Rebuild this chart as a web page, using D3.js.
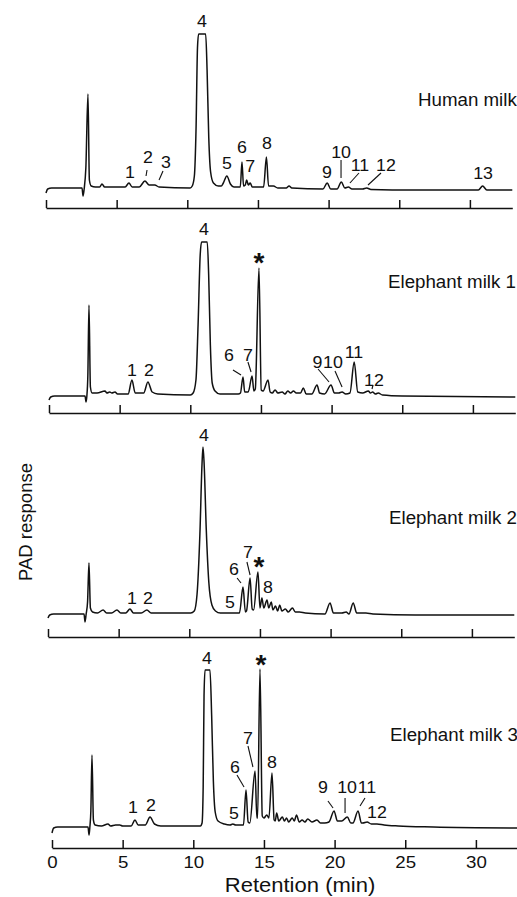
<!DOCTYPE html>
<html>
<head>
<meta charset="utf-8">
<script src="https://cdn.jsdelivr.net/npm/d3@7"></script>
<style>
  body { margin: 0; background: #fff; }
  text { font-family: "Liberation Sans", Arial, Helvetica, sans-serif; fill: #111; }
</style>
</head>
<body>
<script>
const w = 517;
const h = 897;

// retention time (min), response above baseline (arbitrary units)
const humanTrace = [
  [0,-5],[0.12,-1],[0.4,0],[2.55,0],[2.62,-8],[2.7,-1],[2.82,20],[2.97,94],[3.07,8],[3.2,2],[3.5,1],
  [3.8,1],[3.96,4],[4.15,1],[4.5,1],[5.6,1],[5.87,5],[6.1,1],[6.6,1],[7.0,7],[7.3,3],[7.7,3],[8.0,1],[10.2,0],
  [10.35,2],[10.5,12],[10.62,60],[10.72,140],[10.8,154],[11.3,154],[11.4,118],[11.52,50],[11.65,16],[11.85,5],[12.2,2],[12.4,2],
  [12.55,5],[12.8,12],[13.05,4],[13.3,1],[13.75,1],[13.87,26],[13.98,2],[14.1,3],[14.2,8],[14.32,3],[14.45,5],[14.6,1],[15.4,1],
  [15.6,31],[15.75,2],[16.1,2],[16.4,0],[17.0,0],[17.2,2],[17.4,0],[19.6,-1],
  [19.9,5],[20.15,-1],[20.6,-1],[20.9,6],[21.15,0],[21.4,1],[21.65,-1],[22.4,-1],[22.7,0],[23.0,-1.5],
  [26,-2],[30.6,-2],[30.9,2],[31.2,-2],[33,-2]
];
const ele1Trace = [
  [0,-5],[0.12,-2],[0.4,-1],[2.55,-1],[2.62,-7],[2.68,-1],[2.75,20],[2.83,90],[2.93,8],[3.05,2],[3.4,2],
  [3.96,4],[4.1,2],[4.3,3],[4.45,2],[4.67,3],[4.85,1],[5.6,1],[5.87,15],[6.1,2],[6.7,2],[7.0,13],[7.3,3],[7.7,1],[10.0,0],
  [10.2,2],[10.4,15],[10.55,70],[10.7,140],[10.8,153],[11.2,153],[11.3,120],[11.42,50],[11.55,12],[11.75,4],[12.1,1],
  [13.4,1],[13.55,2],[13.73,18],[13.85,3],[14.1,3],[14.37,19],[14.5,4],[14.6,6],[14.86,127],[15.02,5],[15.15,4],[15.5,15],[15.65,3],[15.8,2],
  [16.0,5],[16.2,2],[16.5,3],[16.7,1],[16.9,4],[17.1,2],[17.3,4],[17.5,2],[17.8,2],[18.0,7],[18.2,1],[18.6,1],[18.97,10],[19.15,2],
  [19.5,1],[19.96,10],[20.2,2],[20.5,2],[20.74,3],[21.0,1],[21.3,2],[21.6,33],[21.85,3],[22.2,2],[22.6,4],[22.75,2],[22.9,3],
  [23.1,1],[23.3,2],[23.6,0],[25,-1],[33,-2]
];
const ele2Trace = [
  [0,-4],[0.12,-1],[0.4,0],[2.55,0],[2.62,-8],[2.7,0],[2.8,12],[2.9,51],[3.0,6],[3.15,2],[3.5,1],[3.9,4],[4.15,1],[4.5,1],
  [4.88,4],[5.15,1],[5.5,1],[5.8,5],[6.05,1],[6.6,1],[7.0,4],[7.3,1],[10.1,1],
  [10.35,3],[10.55,20],[10.75,80],[10.9,150],[10.97,167],[11.05,150],[11.2,85],[11.38,32],[11.6,9],[11.85,3],[12.2,1],
  [13.55,1],[13.8,27],[13.97,2],[14.05,3],[14.3,36],[14.45,5],[14.55,4],[14.86,42],[15.0,6],[15.14,16],[15.27,6],[15.5,14],
  [15.62,6],[15.8,12],[15.92,4],[16.1,8],[16.25,3],[16.4,9],[16.55,3],[16.8,5],[17.0,2],[17.3,6],[17.5,2],[17.8,2],[18.2,1],
  [19.6,0],[19.96,11],[20.2,1],[20.8,1],[21.1,2],[21.3,0],[21.6,11],[21.85,1],[22.5,1],[23,0],[26,-1],[33,-1]
];
const ele3Trace = [
  [0,-7],[0.12,-2],[0.4,-1],[2.55,-1],[2.62,-9],[2.68,-1],[2.75,15],[2.83,71],[2.93,6],[3.05,1],[3.5,0],[3.96,2],[4.15,0],
  [4.5,1],[4.8,1],[5.0,0],[5.6,0],[5.87,6],[6.1,1],[6.6,1],[6.94,9],[7.25,2],[7.7,0],[10.5,0],
  [10.62,3],[10.7,40],[10.76,130],[10.83,156],[11.18,156],[11.3,110],[11.42,45],[11.55,14],[11.75,5],[12.2,2],[12.6,1],
  [12.8,2],[13.0,1],[13.55,1],[13.73,36],[13.88,4],[14.0,3],[14.37,55],[14.5,8],[14.55,8],[14.72,157],[14.88,10],[15.0,8],
  [15.2,11],[15.35,8],[15.57,53],[15.72,6],[15.8,5],[15.9,13],[16.05,5],[16.3,9],[16.45,5],[16.6,8],[16.75,4],[17.0,8],
  [17.15,5],[17.3,11],[17.5,4],[17.7,6],[17.9,4],[18.1,7],[18.4,4],[18.75,6],[19.0,3],[19.3,3],[19.6,4],[19.96,15],[20.2,5],
  [20.5,5],[20.9,9],[21.15,3],[21.3,3],[21.66,15],[21.9,3],[22.0,3],[22.3,4],[22.6,2],[23,2],[23.5,1],[24.5,0],[27,-1],[33,-2]
];

// peak labels: [text, time, response]
const humanLabels = [["1",5.94,16],["2",7.22,31],["3",8.49,26],["4",11.04,167],["5",12.81,25],["6",13.87,41],["7",14.45,22],
  ["8",15.64,45],["9",19.89,16],["10",20.88,36],["11",22.22,23],["12",24.06,23],["13",30.93,15]];
const ele1Labels = [["1",5.87,25],["2",7.08,25],["4",10.97,166],["*",14.86,138],["6",12.74,40],["7",14.08,40],
  ["9",19.0,33],["10",20.1,33],["11",21.58,43],["12",23.0,15]];
const ele2Labels = [["1",5.94,16],["2",7.08,16],["4",11.04,179],["5",12.88,12],["6",13.16,45],["7",14.15,62],
  ["*",14.93,53],["8",15.57,27]];
const ele3Labels = [["1",5.73,19],["2",7.0,21],["4",10.97,168],["5",12.88,13],["6",12.95,59],["7",13.87,88],
  ["*",14.79,167],["8",15.57,64],["9",19.18,39],["10",20.88,39],["11",22.29,39],["12",23.0,14]];

// leader lines: [t1, r1, t2, r2]
const humanLeaders = [[7.15,18,7.08,12],[8.28,17,8.0,8],[20.88,28,20.88,10],[22.15,15,21.51,5],[23.71,15,22.79,3]];
const ele1Leaders = [[13.02,25,13.59,20],[14.08,33,14.3,23],[19.04,26,19.82,13],[20.24,24,20.74,8],[22.93,10,22.86,6]];
const ele2Leaders = [[13.38,36,13.66,31],[14.08,52,14.3,39]];
const ele3Leaders = [[13.09,51,13.59,39],[13.87,80,14.22,59],[19.53,25,19.89,18],[20.74,28,20.74,13],[22.15,28,21.8,20]];

const sampleNames = ["Human milk", "Elephant milk 1", "Elephant milk 2", "Elephant milk 3"];
const tickValues = [0, 5, 10, 15, 20, 25, 30];

const pxPerMin = 14.13;
const panels = [
  {trace: humanTrace, labels: humanLabels, leaders: humanLeaders, x0: 46, base: 188, axisY: 208, nameX: 418, nameY: 100},
  {trace: ele1Trace, labels: ele1Labels, leaders: ele1Leaders, x0: 49, base: 395, axisY: 413, nameX: 388, nameY: 282},
  {trace: ele2Trace, labels: ele2Labels, leaders: ele2Leaders, x0: 48, base: 614, axisY: 637, nameX: 389, nameY: 518},
  {trace: ele3Trace, labels: ele3Labels, leaders: ele3Leaders, x0: 52, base: 826, axisY: 848, nameX: 390, nameY: 735}
];

const svg = d3.select("body").append("svg")
  .attr("width", w)
  .attr("height", h);

panels.forEach(function(p, i) {
  const x = d3.scaleLinear().domain([0, 33]).range([p.x0, p.x0 + 33 * pxPerMin]);
  const y = d3.scaleLinear().domain([0, 160]).range([p.base, p.base - 160]);
  const g = svg.append("g");

  const line = d3.line()
    .x(d => x(d[0]))
    .y(d => y(d[1]))
    .curve(d3.curveMonotoneX);

  g.append("path")
    .datum(p.trace)
    .attr("d", line)
    .attr("fill", "none")
    .attr("stroke", "#111")
    .attr("stroke-width", 1.5)
    .attr("stroke-linejoin", "round");

  // axis with ticks pointing up
  const last = i == panels.length - 1;
  const axis = d3.axisBottom(x)
    .tickValues(tickValues)
    .tickSizeInner(-8)
    .tickSizeOuter(0)
    .tickPadding(8)
    .tickFormat(last ? d3.format("d") : "");
  const ax = g.append("g")
    .attr("transform", "translate(0," + p.axisY + ")")
    .call(axis);
  ax.select(".domain").attr("stroke", "#111").attr("stroke-width", 1.6);
  ax.selectAll(".tick line").attr("stroke", "#111").attr("stroke-width", 1.5);
  ax.selectAll(".tick text")
    .attr("font-size", 17)
    .attr("font-family", "Liberation Sans, Arial, sans-serif")
    .attr("fill", "#111")
    .attr("transform", "scale(1.1,1)");

  g.selectAll(".leader")
    .data(p.leaders)
    .join("line")
    .attr("x1", d => x(d[0])).attr("y1", d => y(d[1]))
    .attr("x2", d => x(d[2])).attr("y2", d => y(d[3]))
    .attr("stroke", "#111")
    .attr("stroke-width", 1.1);

  g.selectAll(".plabel")
    .data(p.labels)
    .join("text")
    .attr("text-anchor", "middle")
    .attr("transform", function(d) {
      if (d[0] == "*") return "translate(" + x(d[1]) + "," + (y(d[2]) + 15) + ")";
      return "translate(" + x(d[1]) + "," + y(d[2]) + ") scale(1.08,1)";
    })
    .attr("dy", d => d[0] == "*" ? 0 : "0.36em")
    .attr("font-size", d => d[0] == "*" ? 28 : 16.5)
    .attr("font-weight", d => d[0] == "*" ? "bold" : "normal")
    .text(d => d[0]);

  g.append("text")
    .attr("transform", "translate(" + p.nameX + "," + p.nameY + ") scale(1.07,1)")
    .attr("dy", "0.36em")
    .attr("font-size", 17.5)
    .text(sampleNames[i]);
});

svg.append("text")
  .attr("transform", "translate(300,885) scale(1.13,1)")
  .attr("text-anchor", "middle")
  .attr("dy", "0.34em")
  .attr("font-size", 19.5)
  .text("Retention (min)");

svg.append("text")
  .attr("transform", "translate(25,522) rotate(-90)")
  .attr("text-anchor", "middle")
  .attr("dy", "0.36em")
  .attr("font-size", 18.5)
  .text("PAD response");
</script>
</body>
</html>
